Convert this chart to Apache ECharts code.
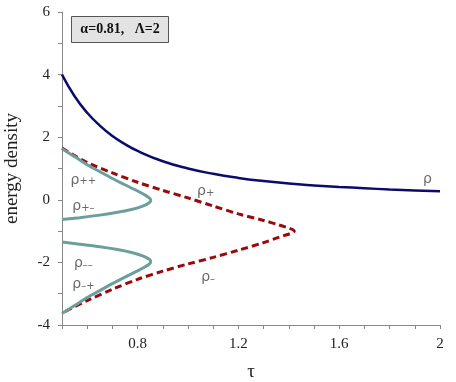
<!DOCTYPE html>
<html>
<head>
<meta charset="utf-8">
<script src="https://cdn.jsdelivr.net/npm/echarts@6/dist/echarts.min.js"></script>
<style>
  html, body { margin: 0; padding: 0; background: #fff; }
  #chart { width: 456px; height: 382px; }
</style>
</head>
<body>
<div id="chart"></div>
<script>
// rho = total energy density
const tauRho = [0.5, 0.55, 0.6, 0.65, 0.7, 0.75, 0.8, 0.9, 1.0, 1.1, 1.2, 1.3, 1.4, 1.5, 1.6, 1.7, 1.8, 1.9, 2.0];
const rhoVals = [4.0, 3.31, 2.78, 2.37, 2.04, 1.78, 1.56, 1.23, 1.0, 0.83, 0.7, 0.6, 0.52, 0.46, 0.41, 0.37, 0.33, 0.3, 0.27];

// rho+ (upper) and rho- (lower) dashed branch, ordered along the curve
const tauPlus = [0.5, 0.6, 0.7, 0.8, 0.9, 1.0, 1.1, 1.2, 1.3, 1.36, 1.395, 1.415, 1.422];
const rhoPlus = [1.65, 1.19, 0.86, 0.56, 0.3, 0.06, -0.2, -0.45, -0.66, -0.8, -0.89, -0.95, -1.0];
const tauMinus = [1.415, 1.395, 1.36, 1.3, 1.2, 1.1, 1.0, 0.9, 0.8, 0.7, 0.6, 0.5];
const rhoMinus = [-1.05, -1.11, -1.2, -1.37, -1.61, -1.84, -2.05, -2.28, -2.54, -2.86, -3.22, -3.62];

// rho++ / rho+- lobe and rho-- / rho-+ lobe
const tauUpperLobe = [0.5, 0.55, 0.6, 0.65, 0.7, 0.75, 0.8, 0.83, 0.848, 0.852, 0.845, 0.82, 0.78, 0.72, 0.65, 0.57, 0.5];
const rhoUpperLobe = [1.63, 1.38, 1.12, 0.9, 0.68, 0.48, 0.28, 0.15, 0.05, -0.02, -0.1, -0.2, -0.3, -0.4, -0.49, -0.57, -0.63];
const tauLowerLobe = [0.5, 0.57, 0.65, 0.72, 0.78, 0.82, 0.845, 0.852, 0.848, 0.83, 0.8, 0.75, 0.7, 0.65, 0.6, 0.55, 0.5];
const rhoLowerLobe = [-1.35, -1.42, -1.5, -1.59, -1.69, -1.79, -1.89, -1.96, -2.04, -2.14, -2.27, -2.47, -2.68, -2.9, -3.12, -3.38, -3.63];

// curve labels: [tau, rho, text]
const curveLabels = [
    [1.95, 0.73, '{r|ρ}'],
    [1.07, 0.32, '{r|ρ}{s|+}'],
    [1.08, -2.4, '{r|ρ}{s|–}'],
    [0.585, 0.7, '{r|ρ}{s|++}'],
    [0.585, -0.16, '{r|ρ}{s|+–}'],
    [0.585, -1.98, '{r|ρ}{s|––}'],
    [0.585, -2.65, '{r|ρ}{s|–+}']
];

const xLabels = [0.8, 1.2, 1.6, 2];

const zip = (xs, ys) => xs.map((x, i) => [x, ys[i]]);

const chart = echarts.init(document.getElementById('chart'));
const serif = 'Liberation Serif';

chart.setOption({
    animation: false,
    grid: { left: 62, right: 16, top: 12, bottom: 57, outerBoundsMode: 'none', containLabel: false },
    xAxis: {
        type: 'value',
        min: 0.5,
        max: 2,
        interval: 0.1,
        name: 'τ',
        nameLocation: 'middle',
        nameGap: 38,
        nameTextStyle: { fontFamily: serif, fontSize: 19, color: '#222' },
        axisLine: { show: true, onZero: false, lineStyle: { color: '#888' } },
        axisTick: { show: true, length: 4, lineStyle: { color: '#888' } },
        splitLine: { show: false },
        axisLabel: {
            margin: 12,
            fontFamily: serif, fontSize: 15, color: '#222',
            formatter: v => xLabels.some(t => Math.abs(t - v) < 1e-6) ? String(Math.round(v * 10) / 10) : ''
        }
    },
    yAxis: {
        type: 'value',
        min: -4,
        max: 6,
        interval: 2,
        name: 'energy density',
        nameLocation: 'middle',
        nameGap: 40,
        nameTextStyle: { fontFamily: serif, fontSize: 19, color: '#222' },
        axisLine: { show: true, lineStyle: { color: '#888' } },
        axisTick: { show: true, length: 4, lineStyle: { color: '#888' } },
        minorTick: { show: true, splitNumber: 2, length: 4, lineStyle: { color: '#888' } },
        splitLine: { show: false },
        axisLabel: { margin: 12, fontFamily: serif, fontSize: 15, color: '#222' }
    },
    graphic: [{
        type: 'group',
        left: 71,
        top: 16,
        children: [
            { type: 'rect', shape: { x: 0, y: 0, width: 97, height: 26 }, style: { fill: '#e3e3e3', stroke: '#555', lineWidth: 1 } },
            { type: 'text', x: 48.5, y: 13, style: { text: 'α=0.81,   Λ=2', fontFamily: serif, fontWeight: 'bold', fontSize: 14, fill: '#111', align: 'center', verticalAlign: 'middle' } }
        ]
    }],
    series: [
        {
            name: 'ρ',
            type: 'line',
            data: zip(tauRho, rhoVals),
            smooth: true,
            showSymbol: false,
            lineStyle: { color: '#0b0b6b', width: 2.5 }
        },
        {
            name: 'ρ±',
            type: 'line',
            data: zip(tauPlus, rhoPlus).concat(zip(tauMinus, rhoMinus)),
            smooth: 0.3,
            showSymbol: false,
            lineStyle: { color: '#9b0a0a', width: 3, type: [7, 4] }
        },
        {
            name: 'upper lobe',
            type: 'line',
            data: zip(tauUpperLobe, rhoUpperLobe),
            smooth: 0.3,
            showSymbol: false,
            lineStyle: { color: '#6c9e9e', width: 3 }
        },
        {
            name: 'lower lobe',
            type: 'line',
            data: zip(tauLowerLobe, rhoLowerLobe),
            smooth: 0.3,
            showSymbol: false,
            lineStyle: { color: '#6c9e9e', width: 3 }
        },
        {
            name: 'labels',
            type: 'scatter',
            symbolSize: 0,
            data: curveLabels,
            label: {
                show: true,
                position: 'inside',
                formatter: p => p.data[2],
                rich: {
                    r: { fontFamily: 'DejaVu Sans', fontSize: 14, color: '#444', lineHeight: 18, verticalAlign: 'bottom' },
                    s: { fontFamily: 'DejaVu Sans', fontSize: 10, color: '#444', lineHeight: 12, verticalAlign: 'bottom' }
                }
            },
            silent: true
        }
    ]
});
</script>
</body>
</html>
